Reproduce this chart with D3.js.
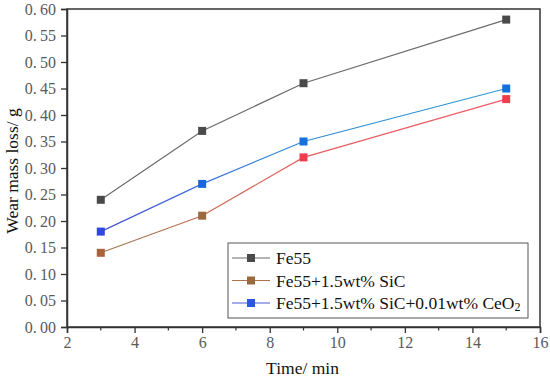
<!DOCTYPE html>
<html>
<head>
<meta charset="utf-8">
<script src="https://cdn.jsdelivr.net/npm/d3@7"></script>
<style>
  body { margin: 0; background: #fff; }
  svg text { font-family: "Liberation Serif", "Times New Roman", serif; }
</style>
</head>
<body>
<div id="chart"></div>
<script>
'use strict';

// data
const times = [3, 6, 9, 15]
const fe55 = [0.24, 0.37, 0.46, 0.58]
const fe55SiC = [0.14, 0.21, 0.32, 0.43]
const fe55SiCCeO2 = [0.18, 0.27, 0.35, 0.45]
const xTicks = [2, 4, 6, 8, 10, 12, 14, 16]
const yTicks = d3.range(0, 0.601, 0.05)

const series = [
  {name: 'Fe55', values: fe55, line: ['#6a6a6a', '#6a6a6a'], marker: ['#4a4a4a', '#4a4a4a']},
  {name: 'Fe55+1.5wt% SiC', values: fe55SiC, line: ['#a07a48', '#f45868'], marker: ['#a8643c', '#f03c4c']},
  {name: 'Fe55+1.5wt% SiC+0.01wt% CeO', sub: '2', values: fe55SiCCeO2, line: ['#4a52d8', '#2a9ad0'], marker: ['#3048e0', '#1470dc']}
]

const W = 550, H = 380
const margin = {top: 9, right: 10, bottom: 53, left: 67}
const width = W - margin.left - margin.right, height = H - margin.top - margin.bottom

const svg = d3.select('#chart').append('svg')
  .attr('width', W).attr('height', H)

const defs = svg.append('defs')

const x = d3.scaleLinear().domain([2, 16]).range([0, width])
const y = d3.scaleLinear().domain([0, 0.6]).range([height, 0])

const g = svg.append('g').attr('transform', `translate(${margin.left},${margin.top})`)

// frame
g.append('rect')
  .attr('width', width).attr('height', height)
  .attr('fill', 'none').attr('stroke', '#333').attr('stroke-width', 1.5)

// x axis
const xAxis = g.append('g')
  .attr('transform', `translate(0,${height})`)
  .call(d3.axisBottom(x).tickValues(xTicks).tickSize(6).tickPadding(4).tickFormat(d3.format('d')))
xAxis.select('.domain').attr('stroke', '#333').attr('stroke-width', 1.5)
xAxis.selectAll('.tick line').attr('stroke', '#333').attr('stroke-width', 1.3)
xAxis.selectAll('.tick text').attr('fill', '#5a5a5a').style('font-size', '16px')

// minor x ticks
g.append('g').selectAll('line')
  .data(d3.range(3, 16, 2))
  .join('line')
  .attr('x1', d => x(d)).attr('x2', d => x(d))
  .attr('y1', height).attr('y2', height + 3.5)
  .attr('stroke', '#333').attr('stroke-width', 1.2)

// y axis
const yAxis = g.append('g')
  .call(d3.axisLeft(y).tickValues(yTicks).tickSize(6).tickPadding(5)
    .tickFormat(d => d3.format('.2f')(d).replace('.', '.\u2009')))
yAxis.select('.domain').attr('stroke', '#333').attr('stroke-width', 1.5)
yAxis.selectAll('.tick line').attr('stroke', '#333').attr('stroke-width', 1.3)
yAxis.selectAll('.tick text').attr('fill', '#5a5a5a').style('font-size', '16px')

// axis titles
svg.append('text')
  .attr('x', margin.left + width / 2 - 1).attr('y', 374)
  .attr('text-anchor', 'middle').style('font-size', '17.5px').attr('fill', '#111')
  .text('Time/ min')

svg.append('text')
  .attr('transform', `translate(18,${margin.top + height / 2 + 3}) rotate(-90)`)
  .attr('text-anchor', 'middle').style('font-size', '17.5px').attr('fill', '#111')
  .text('Wear mass loss/ g')

// lines and markers
const line = d3.line()
  .x((d, i) => x(times[i]))
  .y(d => y(d))

series.forEach((s, k) => {
  const grad = defs.append('linearGradient')
    .attr('id', 'grad' + k)
    .attr('gradientUnits', 'userSpaceOnUse')
    .attr('x1', x(times[0])).attr('x2', x(times[times.length - 1]))
    .attr('y1', 0).attr('y2', 0)
  grad.append('stop').attr('offset', '0%').attr('stop-color', s.line[0])
  grad.append('stop').attr('offset', '45%').attr('stop-color', d3.interpolateRgb(s.line[0], s.line[1])(0.75))
  grad.append('stop').attr('offset', '100%').attr('stop-color', s.line[1])

  g.append('path')
    .datum(s.values)
    .attr('fill', 'none')
    .attr('stroke', `url(#grad${k})`)
    .attr('stroke-width', 1.2)
    .attr('d', line)

  const mc = d3.scaleLinear().domain([times[0], times[1] + 1, times[times.length - 1]])
    .range([s.marker[0], s.marker[1], s.marker[1]]).interpolate(d3.interpolateRgb)

  g.append('g').selectAll('rect')
    .data(s.values)
    .join('rect')
    .attr('x', (d, i) => x(times[i]) - 4)
    .attr('y', d => y(d) - 4)
    .attr('width', 8).attr('height', 8)
    .attr('fill', (d, i) => k === 1 && i === 1 ? '#9c6a40' : mc(times[i]))
})

// legend
const legend = svg.append('g').attr('transform', 'translate(228,243)')
legend.append('rect')
  .attr('width', 300).attr('height', 75)
  .attr('fill', '#fff').attr('stroke', '#555').attr('stroke-width', 1)

const legendMarker = ['#4a4a4a', '#9a6a3c', '#2a56e0']
const legendLine = ['#6a6a6a', '#b0704a', '#4a5ad8']

const rows = legend.selectAll('g.row')
  .data(series)
  .join('g')
  .attr('class', 'row')
  .attr('transform', (d, i) => `translate(0,${15 + i * 22.5})`)

rows.append('line')
  .attr('x1', 4).attr('x2', 42).attr('y1', 0).attr('y2', 0)
  .attr('stroke', (d, i) => legendLine[i]).attr('stroke-width', 1.2)
rows.append('rect')
  .attr('x', 19).attr('y', -4).attr('width', 8).attr('height', 8)
  .attr('fill', (d, i) => legendMarker[i])

const labels = rows.append('text')
  .attr('x', 48).attr('y', 6)
  .style('font-size', '17.5px').attr('fill', '#111')
  .text(d => d.name)
labels.filter(d => d.sub)
  .append('tspan')
  .attr('dy', 2)
  .style('font-size', '12px')
  .text(d => d.sub)
</script>
</body>
</html>
